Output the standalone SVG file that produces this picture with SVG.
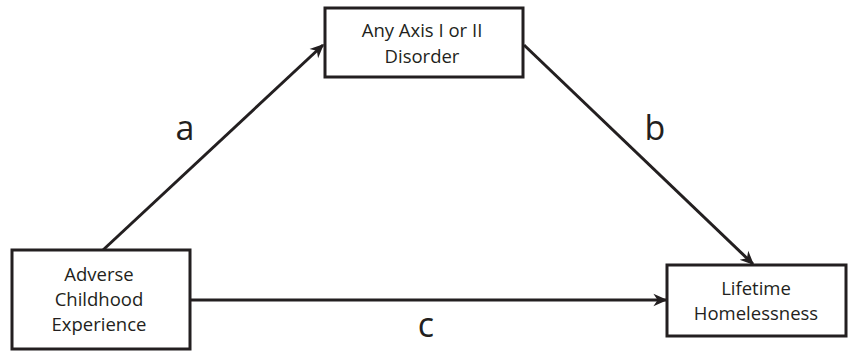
<svg xmlns="http://www.w3.org/2000/svg" width="849" height="352" viewBox="0 0 849 352">
<defs>
<marker id="ah" viewBox="0 0 10 10" refX="9" refY="5" markerWidth="14" markerHeight="14" markerUnits="userSpaceOnUse" orient="auto">
<path d="M0,0.5 L10,5 L0,9.5 L3,5 z" fill="#231f20"/>
</marker>
<style>
.box{fill:#fff;stroke:#231f20;stroke-width:3}
.t{font-family:"Open Sans","Liberation Sans",sans-serif;font-size:18.5px;fill:#231f20;text-anchor:middle}
.lbl{font-family:"Open Sans","Liberation Sans",sans-serif;font-size:34px;fill:#231f20;text-anchor:middle}
.ln{stroke:#231f20;stroke-width:3;fill:none}
</style>
</defs>
<rect width="849" height="352" fill="#fff"/>
<g id="connectors">
<line class="ln" x1="103" y1="250" x2="323" y2="45" marker-end="url(#ah)"/>
<line class="ln" x1="524" y1="45" x2="753" y2="264" marker-end="url(#ah)"/>
<line class="ln" x1="190" y1="300" x2="666" y2="300" marker-end="url(#ah)"/>
<text class="lbl" x="185" y="140">a</text>
<text class="lbl" x="655" y="140">b</text>
<text class="lbl" x="426" y="337">c</text>
</g>
<g id="axis">
<rect class="box" x="325" y="8" width="198" height="69"/>
<text class="t" x="422" y="37">Any Axis I or II</text>
<text class="t" x="422" y="63">Disorder</text>
</g>
<g id="ace">
<rect class="box" x="12" y="250" width="178" height="99"/>
<text class="t" x="99" y="281">Adverse</text>
<text class="t" x="99" y="306">Childhood</text>
<text class="t" x="99" y="331">Experience</text>
</g>
<g id="home">
<rect class="box" x="667" y="265" width="179" height="71"/>
<text class="t" x="756" y="295">Lifetime</text>
<text class="t" x="756" y="320">Homelessness</text>
</g>
</svg>
